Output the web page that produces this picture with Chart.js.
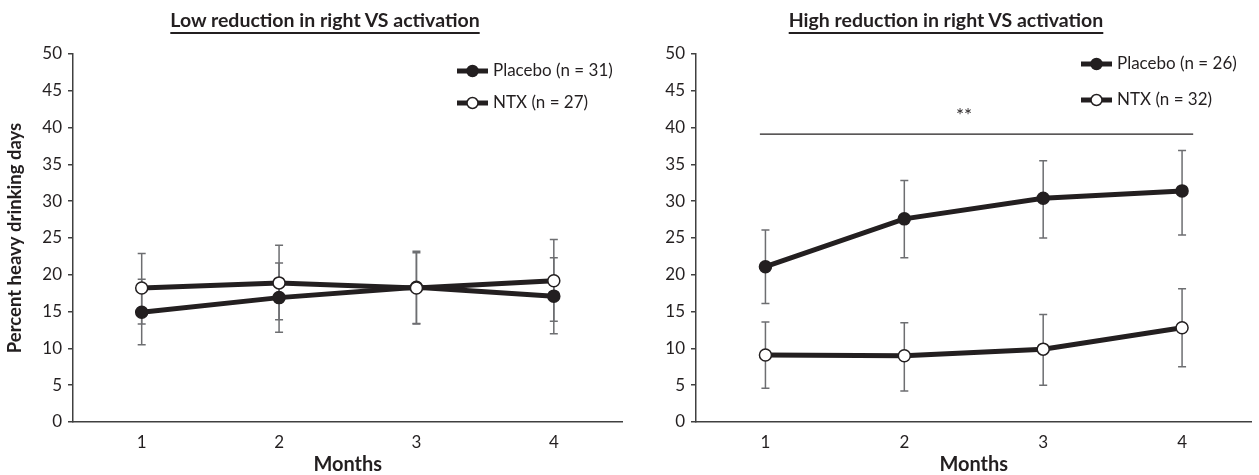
<!DOCTYPE html>
<html>
<head>
<meta charset="utf-8">
<script src="https://cdn.jsdelivr.net/npm/chart.js@4/dist/chart.umd.min.js"></script>
<style>
  body { margin: 0; background: #fff; width: 1259px; height: 475px; position: relative; overflow: hidden; font-family: Lato, sans-serif; color: #231f20; }
  .panel { position: absolute; top: 0; height: 475px; }
  .title { position: absolute; top: 8px; font-weight: bold; font-size: 19.5px; line-height: 24px; white-space: nowrap; transform: translateX(-50%);
           text-decoration: underline; text-decoration-thickness: 2px; text-underline-offset: 5px; }
</style>
</head>
<body>
<div class="panel" style="left:0;width:630px"><canvas id="lowChart" width="630" height="475"></canvas></div>
<div class="panel" style="left:630px;width:629px"><canvas id="highChart" width="629" height="475"></canvas></div>
<div class="title" style="left:325px">Low reduction in right VS activation</div>
<div class="title" style="left:946px">High reduction in right VS activation</div>
<script>
// months on the x axis
const months = [1, 2, 3, 4];
const yTicks = [0, 5, 10, 15, 20, 25, 30, 35, 40, 45, 50];

// low reduction group
const lowPlacebo = [14.9, 16.9, 18.3, 17.1];
const lowPlaceboLo = [10.5, 12.2, 13.4, 12.0];
const lowPlaceboHi = [19.4, 21.6, 23.2, 22.3];
const lowNtx = [18.2, 18.9, 18.2, 19.2];
const lowNtxLo = [13.3, 13.9, 13.3, 13.7];
const lowNtxHi = [22.9, 24.0, 23.0, 24.8];

// high reduction group
const highPlacebo = [21.1, 27.6, 30.4, 31.4];
const highPlaceboLo = [16.1, 22.3, 25.0, 25.4];
const highPlaceboHi = [26.1, 32.8, 35.5, 36.9];
const highNtx = [9.1, 9.0, 9.9, 12.8];
const highNtxLo = [4.6, 4.2, 5.0, 7.5];
const highNtxHi = [13.6, 13.5, 14.6, 18.1];

const ink = '#231f20';
const axisColor = '#404040';
const barColor = '#6d6e71';
const fontFamily = 'Lato, sans-serif';

const toPoints = vals => months.map((m, i) => ({ x: m, y: vals[i] }));

// error bars drawn behind the lines and markers
const errorBars = {
  id: 'errorBars',
  beforeDatasetsDraw(chart) {
    const { ctx, scales: { x, y } } = chart;
    ctx.save();
    ctx.strokeStyle = barColor;
    ctx.lineWidth = 1.5;
    chart.data.datasets.forEach(ds => {
      months.forEach((m, i) => {
        const px = x.getPixelForValue(m);
        const lo = y.getPixelForValue(ds.errLo[i]);
        const hi = y.getPixelForValue(ds.errHi[i]);
        ctx.beginPath();
        ctx.moveTo(px, lo); ctx.lineTo(px, hi);
        ctx.moveTo(px - 4, lo); ctx.lineTo(px + 4, lo);
        ctx.moveTo(px - 4, hi); ctx.lineTo(px + 4, hi);
        ctx.stroke();
      });
    });
    ctx.restore();
  }
};

// significance bar (data units) and custom legend
const extras = {
  id: 'extras',
  afterDraw(chart, args, opts) {
    const { ctx, scales: { x, y } } = chart;
    ctx.save();
    if (opts.sig) {
      const s = opts.sig;
      const yy = y.getPixelForValue(s.y);
      ctx.strokeStyle = ink;
      ctx.lineWidth = 1.2;
      ctx.beginPath();
      ctx.moveTo(x.getPixelForValue(s.from), yy);
      ctx.lineTo(x.getPixelForValue(s.to), yy);
      ctx.stroke();
      ctx.fillStyle = ink;
      ctx.font = '19px ' + fontFamily;
      ctx.textAlign = 'center';
      ctx.textBaseline = 'middle';
      ctx.fillText(s.text, x.getPixelForValue(s.textX), y.getPixelForValue(s.textY));
    }
    const lg = opts.legend;
    chart.data.datasets.forEach((ds, i) => {
      const ly = lg.top + i * lg.gap;
      ctx.strokeStyle = ink;
      ctx.lineWidth = 5;
      ctx.beginPath();
      ctx.moveTo(lg.left, ly); ctx.lineTo(lg.left + 31, ly);
      ctx.stroke();
      ctx.beginPath();
      ctx.arc(lg.left + 15.5, ly, 5.5, 0, Math.PI * 2);
      ctx.fillStyle = ds.pointBackgroundColor;
      ctx.fill();
      ctx.lineWidth = 1.5;
      ctx.stroke();
      ctx.fillStyle = ink;
      ctx.font = '17px ' + fontFamily;
      ctx.textAlign = 'left';
      ctx.textBaseline = 'middle';
      ctx.fillText(ds.label, lg.left + 36, ly);
    });
    ctx.restore();
  }
};

function makeChart(id, placebo, placeboLo, placeboHi, ntx, ntxLo, ntxHi, nPlacebo, nNtx, cfg) {
  const lineStyle = {
    borderColor: ink, borderWidth: 5, pointRadius: 6, pointHoverRadius: 6,
    pointBorderColor: ink, pointBorderWidth: 1.5, tension: 0
  };
  return new Chart(document.getElementById(id), {
    type: 'line',
    data: {
      datasets: [
        { ...lineStyle, label: `Placebo (n = ${nPlacebo})`, data: toPoints(placebo),
          pointBackgroundColor: ink, errLo: placeboLo, errHi: placeboHi, order: 2 },
        { ...lineStyle, label: `NTX (n = ${nNtx})`, data: toPoints(ntx),
          pointBackgroundColor: '#ffffff', errLo: ntxLo, errHi: ntxHi, order: 1 }
      ]
    },
    options: {
      responsive: false,
      animation: false,
      layout: { padding: { top: 54, right: cfg.padRight, bottom: 0, left: 0 } },
      plugins: {
        legend: { display: false },
        tooltip: { enabled: false },
        extras: { legend: cfg.legend, sig: cfg.sig }
      },
      scales: {
        x: {
          type: 'linear', min: 0.5, max: 4.5,
          afterBuildTicks: s => { s.ticks = months.map(v => ({ value: v })); },
          afterFit: s => { s.height = 53; },
          grid: { display: false },
          border: { display: true, color: axisColor, width: 1.5 },
          ticks: { color: ink, font: { family: fontFamily, size: 17 }, padding: 2 },
          title: { display: true, text: 'Months', color: ink,
                   font: { family: fontFamily, size: 20, weight: 'bold', lineHeight: 1.0 }, padding: 0 }
        },
        y: {
          min: 0, max: 50,
          afterBuildTicks: s => { s.ticks = yTicks.map(v => ({ value: v })); },
          afterFit: s => { s.width = cfg.yWidth; },
          grid: { drawOnChartArea: false, drawTicks: true, tickLength: 5, color: axisColor, lineWidth: 1.5 },
          border: { display: true, color: axisColor, width: 1.5 },
          ticks: { color: ink, font: { family: fontFamily, size: 17 }, padding: 6 },
          title: { display: cfg.yTitle, text: 'Percent heavy drinking days', color: ink,
                   font: { family: fontFamily, size: 18.5, weight: 'bold' }, padding: { top: 4, bottom: 0 } }
        }
      }
    },
    plugins: [errorBars, extras]
  });
}

makeChart('lowChart', lowPlacebo, lowPlaceboLo, lowPlaceboHi, lowNtx, lowNtxLo, lowNtxHi, 31, 27, {
  yWidth: 73, padRight: 3, yTitle: true,
  legend: { left: 457, top: 71, gap: 32 }
});

makeChart('highChart', highPlacebo, highPlaceboLo, highPlaceboHi, highNtx, highNtxLo, highNtxHi, 26, 32, {
  yWidth: 66, padRight: 4, yTitle: false,
  legend: { left: 451, top: 64, gap: 36 },
  sig: { from: 0.96, to: 4.08, y: 39.1, text: '**', textX: 2.43, textY: 41.6 }
});
</script>
</body>
</html>
